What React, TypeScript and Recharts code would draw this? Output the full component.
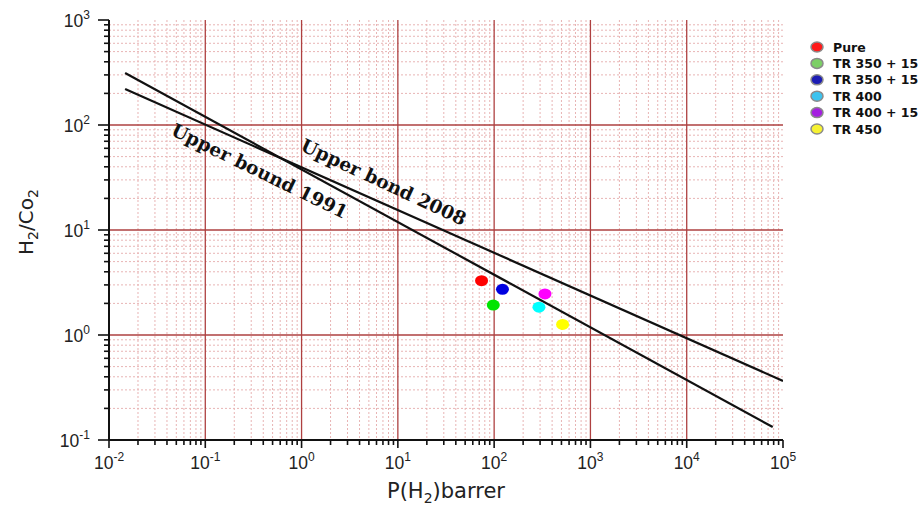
import React from 'react';
import {
  ScatterChart,
  Scatter,
  XAxis,
  YAxis,
  CartesianGrid,
  ReferenceDot,
  Legend,
  Label,
} from 'recharts';

// ---- data ----
const xDecades = [-2, -1, 0, 1, 2, 3, 4, 5];
const yDecades = [-1, 0, 1, 2, 3];
const minorSteps = [2, 3, 4, 5, 6, 7, 8, 9];

const seriesNames = ['Pure', 'TR 350 + 15', 'TR 350 + 15', 'TR 400', 'TR 400 + 15', 'TR 450'];
const seriesX = [74, 98, 122, 292, 337, 514];
const seriesY = [3.29, 1.93, 2.72, 1.84, 2.46, 1.26];
const pointColors = ['#ff0000', '#00e400', '#0000e0', '#00ffff', '#ff00ff', '#ffff00'];
const legendColors = ['#ff1a1a', '#7ccf66', '#1c1cb4', '#3cc3ef', '#a41fe0', '#f6f232'];

const bound1991X = [0.0147, 78200];
const bound1991Y = [313, 0.133];
const bound2008X = [0.0147, 100000];
const bound2008Y = [220, 0.365];

const label1991 = { text: 'Upper bound 1991', x: 0.367, y: 36.5, angle: 26 };
const label2008 = { text: 'Upper bond 2008', x: 7.13, y: 28.6, angle: 25 };

// ---- derived tables ----
const xMajor = xDecades.map((d) => Math.pow(10, d));
const yMajor = yDecades.map((d) => Math.pow(10, d));
const xMinor = xDecades.slice(0, -1).flatMap((d) => minorSteps.map((m) => m * Math.pow(10, d)));
const yMinor = yDecades.slice(0, -1).flatMap((d) => minorSteps.map((m) => m * Math.pow(10, d)));
const xAllTicks = [...xMajor, ...xMinor].sort((a, b) => a - b);
const yAllTicks = [...yMajor, ...yMinor].sort((a, b) => a - b);

const pointSeries = seriesNames.map((name, i) => ({
  name,
  color: pointColors[i],
  data: [{ x: seriesX[i], y: seriesY[i] }],
}));
const line1991 = bound1991X.map((x, i) => ({ x, y: bound1991Y[i] }));
const line2008 = bound2008X.map((x, i) => ({ x, y: bound2008Y[i] }));

const isDecade = (v: number) => {
  const lg = Math.log10(v);
  return Math.abs(lg - Math.round(lg)) < 1e-6;
};

const SANS = 'Liberation Sans, Arial, sans-serif';

const XTick = (props: any) => {
  const { x, y, payload } = props;
  const v = payload.value;
  const major = isDecade(v);
  return (
    <g>
      <line x1={x} x2={x} y1={y} y2={y + (major ? 8 : 5)} stroke="#111" strokeWidth={1.6} />
      {major && (
        <text x={x} y={y + 29} textAnchor="middle" fontFamily={SANS} fontSize={17.5} fill="#222">
          <tspan>10</tspan>
          <tspan dy={-8} fontSize={12}>{Math.round(Math.log10(v))}</tspan>
        </text>
      )}
    </g>
  );
};

const YTick = (props: any) => {
  const { x, y, payload } = props;
  const v = payload.value;
  const major = isDecade(v);
  return (
    <g>
      <line x1={x} x2={x - (major ? 11 : 5)} y1={y} y2={y} stroke="#111" strokeWidth={1.6} />
      {major && (
        <text x={x - 19} y={y + 6.5} textAnchor="end" fontFamily={SANS} fontSize={17.5} fill="#222">
          <tspan>10</tspan>
          <tspan dy={-8} fontSize={12}>{Math.round(Math.log10(v))}</tspan>
        </text>
      )}
    </g>
  );
};

const Dot = (props: any) => {
  const { cx, cy, fill } = props;
  if (cx == null || cy == null) return <g />;
  return <ellipse cx={cx} cy={cy} rx={6.5} ry={5.5} fill={fill} />;
};

const NoShape = () => <g />;

const makeTextShape = (lab: { text: string; angle: number }) => (props: any) => {
  const { cx, cy } = props;
  return (
    <text
      x={cx}
      y={cy}
      transform={`rotate(${lab.angle}, ${cx}, ${cy})`}
      textAnchor="middle"
      dominantBaseline="central"
      fontFamily="DejaVu Serif, serif"
      fontWeight="bold"
      fontSize={18.5}
      fill="#111"
    >
      {lab.text}
    </text>
  );
};

const LegendContent = () => (
  <svg width={112} height={110}>
    {seriesNames.map((n, i) => (
      <g key={i}>
        <ellipse cx={9} cy={9 + i * 16.4} rx={6} ry={5} fill={legendColors[i]} stroke="#8a8a8a" strokeWidth={1.5} />
        <text x={25} y={13.5 + i * 16.4} fontFamily="DejaVu Sans, sans-serif" fontWeight="bold" fontSize={12.5} fill="#111">
          {n}
        </text>
      </g>
    ))}
  </svg>
);

const XTitle = (props: any) => {
  const { viewBox } = props;
  const cx = viewBox.x + viewBox.width / 2;
  return (
    <text x={cx} y={498} textAnchor="middle" fontFamily="DejaVu Sans, sans-serif" fontSize={21} fill="#222">
      <tspan>P(H</tspan>
      <tspan dy={5} fontSize={14}>2</tspan>
      <tspan dy={-5}>)barrer</tspan>
    </text>
  );
};

const YTitle = (props: any) => {
  const { viewBox } = props;
  const cy = 222;
  const x = 33;
  return (
    <text x={x} y={cy} transform={`rotate(-90, ${x}, ${cy})`} textAnchor="middle" fontFamily="DejaVu Sans, sans-serif" fontSize={20} fill="#222">
      <tspan>H</tspan>
      <tspan dy={5} fontSize={14}>2</tspan>
      <tspan dy={-5}>/Co</tspan>
      <tspan dy={5} fontSize={14}>2</tspan>
    </text>
  );
};

export default function App() {
  return (
    <div style={{ position: 'absolute', left: 0, top: 0, width: 920, height: 509, background: '#fff' }}>
      <ScatterChart width={920} height={509} margin={{ top: 20, right: 137, bottom: 19, left: 0 }}>
        <CartesianGrid
          horizontalValues={yMinor}
          verticalValues={xMinor}
          stroke="#e8b4b4"
          strokeDasharray="2 2"
          strokeWidth={1}
        />
        <CartesianGrid
          horizontalValues={yMajor.slice(1, -1)}
          verticalValues={xMajor.slice(1, -1)}
          stroke="#ae4040"
          strokeWidth={1.3}
        />
        <XAxis
          type="number"
          dataKey="x"
          scale="log"
          domain={[0.01, 100000]}
          ticks={xAllTicks}
          interval={0}
          allowDataOverflow
          height={50}
          tickSize={0}
          tickMargin={0}
          tickLine={false}
          tick={<XTick />}
          axisLine={{ stroke: '#111', strokeWidth: 2 }}
        >
          <Label content={<XTitle />} />
        </XAxis>
        <YAxis
          type="number"
          dataKey="y"
          scale="log"
          domain={[0.1, 1000]}
          ticks={yAllTicks}
          interval={0}
          allowDataOverflow
          width={109}
          tickSize={0}
          tickMargin={0}
          tickLine={false}
          tick={<YTick />}
          axisLine={{ stroke: '#111', strokeWidth: 2 }}
        >
          <Label content={<YTitle />} />
        </YAxis>
        <XAxis
          xAxisId="top"
          orientation="top"
          type="number"
          domain={[0, 10]}
          ticks={[0, 1, 2, 3, 4, 5, 6, 7, 8, 9, 10]}
          height={0}
          mirror
          tick={false}
          tickSize={4}
          tickLine={{ stroke: '#111', strokeWidth: 1.5 }}
          axisLine={{ stroke: '#111', strokeWidth: 2 }}
        />
        <YAxis
          yAxisId="right"
          orientation="right"
          type="number"
          domain={[0, 10]}
          ticks={[0, 1, 2, 3, 4, 5, 6, 7, 8, 9, 10]}
          width={0}
          mirror
          tick={false}
          tickSize={4}
          tickLine={{ stroke: '#111', strokeWidth: 1.5 }}
          axisLine={{ stroke: '#111', strokeWidth: 2 }}
        />
        <Scatter
          data={line1991}
          line={{ stroke: '#111', strokeWidth: 2.2 }}
          shape={<NoShape />}
          legendType="none"
          isAnimationActive={false}
        />
        <Scatter
          data={line2008}
          line={{ stroke: '#111', strokeWidth: 2.2 }}
          shape={<NoShape />}
          legendType="none"
          isAnimationActive={false}
        />
        {pointSeries.map((s, i) => (
          <Scatter key={i} name={s.name} data={s.data} fill={s.color} shape={<Dot />} isAnimationActive={false} />
        ))}
        <ReferenceDot x={label1991.x} y={label1991.y} r={0} shape={makeTextShape(label1991)} />
        <ReferenceDot x={label2008.x} y={label2008.y} r={0} shape={makeTextShape(label2008)} />
        <Legend
          layout="vertical"
          align="center"
          verticalAlign="middle"
          content={<LegendContent />}
          wrapperStyle={{ left: 808, top: 38, width: 112, height: 110 }}
        />
      </ScatterChart>
    </div>
  );
}
